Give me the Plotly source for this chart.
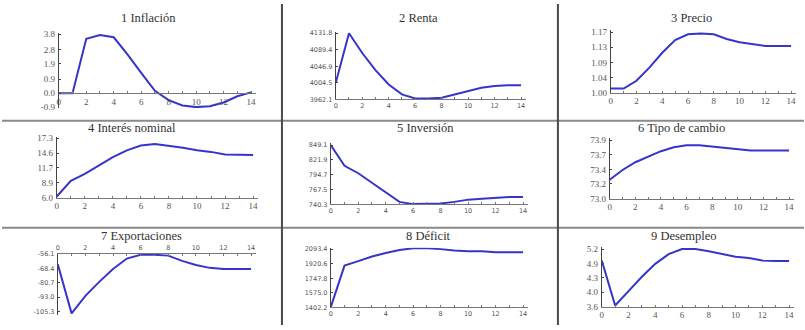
import plotly.graph_objects as go

W, H = 805, 330

# ---------------- data ----------------
periods = list(range(15))
x_tick_vals = [0, 2, 4, 6, 8, 10, 12, 14]

titles = ["1 Inflación", "2 Renta", "3 Precio", "4 Interés nominal", "5 Inversión",
          "6 Tipo de cambio", "7 Exportaciones", "8 Déficit", "9 Desempleo"]

inflacion = [0.0, 0.0, 3.5, 3.75, 3.6, 2.5, 1.3, 0.15, -0.45, -0.8, -0.9, -0.85, -0.6, -0.2, 0.05]
renta = [4004.5, 4131.8, 4080.9, 4036.8, 4000.3, 3974.8, 3964.2, 3964.2, 3966.3, 3974.8,
         3983.3, 3991.8, 3996.0, 3998.2, 3998.2]
precio = [1.011, 1.011, 1.033, 1.070, 1.112, 1.148, 1.164, 1.166, 1.164, 1.151, 1.142,
          1.136, 1.131, 1.131, 1.131]
interes = [6.2, 9.2, 10.5, 12.1, 13.7, 15.0, 15.9, 16.2, 15.9, 15.5, 15.0, 14.7, 14.2, 14.1, 14.1]
inversion = [849.1, 811.0, 797.4, 779.7, 761.2, 744.9, 740.8, 740.8, 741.7, 744.9, 749.0,
             750.6, 752.5, 753.6, 753.6]
tipo_cambio = [73.29, 73.44, 73.56, 73.65, 73.73, 73.79, 73.82, 73.82, 73.80, 73.77, 73.75,
               73.74, 73.74, 73.74, 73.74]
exportaciones = [-65.0, -107.0, -92.0, -80.0, -69.0, -60.0, -56.8, -56.8, -57.5, -62.0,
                 -65.5, -68.0, -69.0, -69.0, -69.0]
deficit = [1405.7, 1898.1, 1951.7, 2005.3, 2046.7, 2083.0, 2103.8, 2103.8, 2093.4, 2076.1,
           2069.2, 2069.2, 2057.1, 2057.1, 2057.1]
desempleo = [4.88, 3.63, 4.03, 4.43, 4.79, 5.06, 5.20, 5.20, 5.14, 5.06, 4.99, 4.95, 4.88,
             4.87, 4.87]

ytick_vals = [
    [-0.9, 0.0, 0.9, 1.9, 2.8, 3.8],
    [3962.1, 4004.5, 4046.9, 4089.4, 4131.8],
    [1.00, 1.0425, 1.085, 1.1275, 1.17],
    [6.0, 8.825, 11.65, 14.475, 17.3],
    [740.3, 767.5, 794.7, 821.9, 849.1],
    [73.0, 73.225, 73.45, 73.675, 73.9],
    [-105.3, -93.0, -80.7, -68.4, -56.1],
    [1402.2, 1575.0, 1747.8, 1920.6, 2093.4],
    [3.6, 4.0, 4.4, 4.8, 5.2],
]
ytick_text = [
    ["-0.9", "0.0", "0.9", "1.9", "2.8", "3.8"],
    ["3962.1", "4004.5", "4046.9", "4089.4", "4131.8"],
    ["1.00", "1.04", "1.09", "1.13", "1.17"],
    ["6.0", "8.9", "11.7", "14.6", "17.3"],
    ["740.3", "767.5", "794.7", "821.9", "849.1"],
    ["73.0", "73.2", "73.4", "73.7", "73.9"],
    ["-105.3", "-93.0", "-80.7", "-68.4", "-56.1"],
    ["1402.2", "1575.0", "1747.8", "1920.6", "2093.4"],
    ["3.6", "4.0", "4.3", "4.9", "5.2"],
]
series = [inflacion, renta, precio, interes, inversion, tipo_cambio, exportaciones, deficit, desempleo]

# ---------------- layout (pixels) ----------------
# x0px, x14px, top-tick px, bottom-tick px, range min, range max, x-axis mode, small font
geom = [
    (57, 250, 31, 106, -0.95, 3.9, "zero", False),
    (335, 521, 30, 98, 3962.1, 4136.0, "bottom", True),
    (611, 792, 29, 91, 1.0, 1.175, "bottom", False),
    (55, 252, 138, 199, 6.0, 17.6, "bottom", False),
    (330, 523, 145, 206, 740.3, 852.0, "bottom", True),
    (610, 790, 140, 200, 73.0, 73.93, "bottom", False),
    (56, 250, 257, 316, -108.0, -56.1, "top", True),
    (330, 523, 252, 312, 1402.2, 2110.0, "bottom", True),
    (602, 790, 252, 311, 3.6, 5.25, "bottom", False),
]
title_pos = [(147, 14), (418, 14), (692, 14), (130, 127), (425, 127), (682, 127),
             (140, 238), (428, 238), (685, 238)]

LINE = "#3535cc"
AX = "#444444"
SERIF = "Liberation Serif, Times New Roman, serif"

fig = go.Figure()
layout = dict(width=W, height=H, margin=dict(l=0, r=0, t=0, b=0),
              paper_bgcolor="white", plot_bgcolor="rgba(0,0,0,0)",
              showlegend=False, annotations=[], shapes=[])

for i in range(9):
    x0px, x14px, ptop, pbot, rmin, rmax, mode, small = geom[i]
    tv = ytick_vals[i]
    vtop, vbot = tv[-1], tv[0]
    s = (pbot - ptop) / (vtop - vbot)
    p_min = pbot + (vbot - rmin) * s
    p_max = ptop - (rmax - vtop) * s
    ydom = [(H - p_min) / H, (H - p_max) / H]
    sx = (x14px - x0px) / 14.0
    xr = [0, 14.35]
    xdom = [x0px / W, (x0px + xr[1] * sx) / W]
    n = "" if i == 0 else str(i + 1)
    fsz = 6.5 if small else 9
    ffam = "DejaVu Sans, sans-serif" if small else SERIF
    tickfont = dict(family=ffam, size=fsz, color="#555555")

    xa = dict(domain=xdom, range=xr, tickvals=x_tick_vals, showgrid=False, zeroline=False,
              showline=True, linecolor="#777777", linewidth=1, ticks="inside", ticklen=2,
              tickcolor="#777777", tickfont=tickfont, ticklabelstandoff=0,
              minor=dict(dtick=1, ticks="inside", ticklen=2, tickcolor="#777777"))
    if mode == "zero":
        pos0 = ydom[0] + (0 - rmin) / (rmax - rmin) * (ydom[1] - ydom[0])
        xa.update(anchor="free", position=pos0)
    elif mode == "top":
        xa.update(anchor="y" + n, side="top")
    else:
        xa.update(anchor="y" + n)
    ya = dict(domain=ydom, range=[rmin, rmax], tickvals=tv, ticktext=ytick_text[i],
              showgrid=False, zeroline=False, showline=True, linecolor=AX, linewidth=1,
              ticks="inside", ticklen=2, tickcolor=AX, tickfont=tickfont,
              anchor="x" + n, ticklabelstandoff=1)
    layout["xaxis" + n] = xa
    layout["yaxis" + n] = ya

    fig.add_trace(go.Scatter(x=periods, y=series[i], mode="lines", xaxis="x" + n, yaxis="y" + n,
                             line=dict(color=LINE, width=2), hoverinfo="skip"))

    tx, ty = title_pos[i]
    layout["annotations"].append(dict(text=titles[i], x=tx / W, y=1 - ty / H, xref="paper",
                                      yref="paper", showarrow=False, xanchor="center",
                                      yanchor="middle",
                                      font=dict(family=SERIF, size=12.5, color="#333333")))

# table grid lines
for yy in (120, 230):
    layout["shapes"].append(dict(type="line", xref="paper", yref="paper", x0=0, x1=1,
                                 y0=1 - yy / H, y1=1 - yy / H,
                                 line=dict(color="#8a8a8a", width=2)))
for xx in (281, 558):
    layout["shapes"].append(dict(type="line", xref="paper", yref="paper", x0=xx / W, x1=xx / W,
                                 y0=0, y1=1, line=dict(color="#4a4a4a", width=2)))

fig.update_layout(**layout)
fig.write_html("out.html", config={"displayModeBar": False},
               post_script="document.body.style.margin='0px';document.body.style.overflow='hidden';")
